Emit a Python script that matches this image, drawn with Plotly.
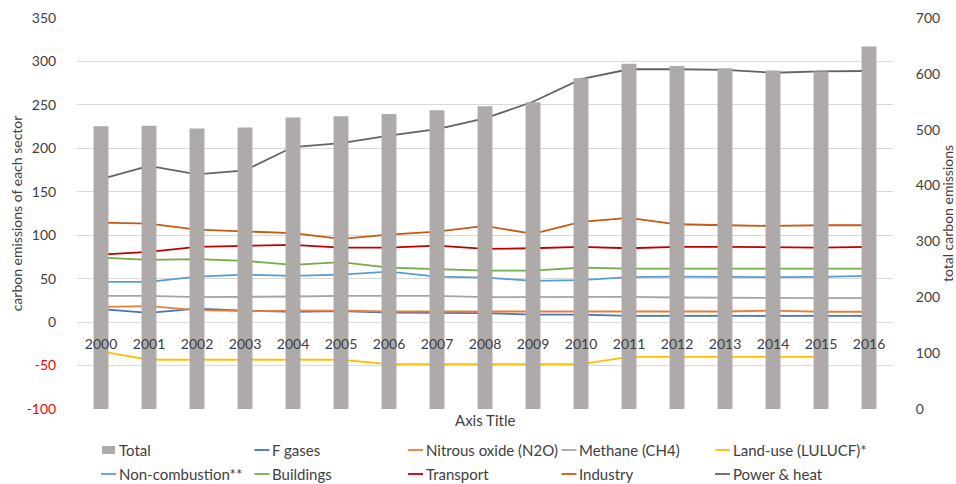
import plotly.graph_objects as go

years = [str(y) for y in range(2000, 2017)]

total = [506, 507, 502, 504, 522, 524, 528, 535, 542, 549, 592, 618, 614, 610, 606, 604, 649]
f_gases = [14.9, 10.7, 15.6, 13.3, 11.9, 12.6, 11.0, 11.0, 10.3, 8.7, 8.7, 7.2, 7.2, 7.2, 8.0, 7.2, 7.2]
nitrous = [17.6, 18.4, 13.8, 12.6, 13.3, 13.3, 12.2, 12.2, 11.5, 11.9, 12.2, 12.2, 12.2, 12.2, 13.3, 11.9, 11.9]
methane = [30.2, 30.2, 28.7, 29.5, 29.5, 30.2, 30.2, 30.2, 28.7, 29.0, 29.0, 29.0, 28.3, 28.3, 27.6, 27.6, 27.6]
land_use = [-33.8, -43.3, -43.3, -43.3, -43.3, -43.3, -48.3, -48.3, -48.3, -48.3, -48.3, -39.9, -39.9, -39.9, -39.9, -39.9, None]
non_combustion = [46.3, 46.3, 52.4, 54.7, 53.2, 54.7, 58.2, 52.4, 51.3, 47.5, 48.3, 51.7, 52.4, 51.7, 51.7, 52.0, 53.2]
buildings = [74.3, 71.6, 72.4, 70.5, 65.9, 69.0, 62.8, 60.9, 59.3, 59.3, 62.8, 61.6, 61.6, 61.6, 60.9, 60.9, 61.6]
transport = [77.7, 80.8, 86.6, 88.0, 88.9, 85.8, 85.8, 88.0, 84.3, 85.0, 86.6, 85.0, 86.6, 86.6, 85.8, 85.8, 86.6]
industry = [114.5, 113.3, 106.4, 104.1, 102.3, 95.7, 100.7, 104.1, 110.7, 101.5, 115.3, 119.9, 112.6, 111.5, 110.7, 111.5, 111.5]
power_heat = [164.7, 179.7, 170.0, 174.7, 201.5, 206.0, 214.5, 222.0, 234.5, 253.6, 279.7, 291.0, 291.0, 290.4, 287.0, 288.5, 289.0]

left_ticks = [350, 300, 250, 200, 150, 100, 50, 0, -50, -100]
right_ticks = [0, 100, 200, 300, 400, 500, 600, 700]

FONT = "Lato"
TEXT = "#404040"
BAR_COLOR = "#AEAAAA"

lines = [
    ("F gases", f_gases, "#4472C4"),
    ("Nitrous oxide (N2O)", nitrous, "#ED7D31"),
    ("Methane (CH4)", methane, "#A5A5A5"),
    ("Land-use (LULUCF)*", land_use, "#FFC000"),
    ("Non-combustion**", non_combustion, "#5B9BD5"),
    ("Buildings", buildings, "#70AD47"),
    ("Transport", transport, "#C00000"),
    ("Industry", industry, "#C55A11"),
    ("Power & heat", power_heat, "#636363"),
]

# figure geometry (pixels) used to place the legend block below the plot
W, H = 956, 484
ML, MR, MT, MB = 77, 63, 18, 75
PW, PH = W - ML - MR, H - MT - MB


def px_x(x):
    return (x - ML) / PW


def px_y(y):
    return (H - MB - y) / PH


fig = go.Figure()
fig.add_trace(go.Bar(x=years, y=total, name="Total", marker_color=BAR_COLOR,
                     marker_line_width=0, yaxis="y2", showlegend=False))
for name, vals, color in lines:
    fig.add_trace(go.Scatter(x=years, y=vals, name=name, mode="lines",
                             line=dict(color=color, width=1.8), yaxis="y",
                             showlegend=False))

# legend: two rows of five entries
entries = [("Total", BAR_COLOR, "box")] + [(n, c, "line") for n, _, c in lines]
shapes, annotations = [], []
for i, (name, color, kind) in enumerate(entries):
    col, row = i % 5, i // 5
    x0 = 101 + 153.5 * col
    yc = 450 + 24 * row
    if kind == "box":
        shapes.append(dict(type="rect", xref="paper", yref="paper",
                           x0=px_x(x0 + 1), x1=px_x(x0 + 14), y0=px_y(yc + 4), y1=px_y(yc - 4),
                           fillcolor=color, line_width=0))
    else:
        shapes.append(dict(type="line", xref="paper", yref="paper",
                           x0=px_x(x0), x1=px_x(x0 + 15), y0=px_y(yc), y1=px_y(yc),
                           line=dict(color=color, width=1.8)))
    annotations.append(dict(text=name, x=px_x(x0 + 15.5), y=px_y(yc), xref="paper", yref="paper",
                            xanchor="left", yanchor="middle", showarrow=False,
                            font=dict(size=15, color=TEXT)))

annotations.append(dict(text="Axis Title", x=px_x(485), y=px_y(420), xref="paper", yref="paper",
                        xanchor="center", yanchor="middle", showarrow=False,
                        font=dict(size=15, color=TEXT)))

left_text = [f'<span style="color:#FF0000">{v}</span>' if v < 0 else str(v) for v in left_ticks]

fig.update_layout(
    width=W, height=H,
    margin=dict(l=ML, r=MR, t=MT, b=MB, autoexpand=False),
    paper_bgcolor="white", plot_bgcolor="white",
    font=dict(family=FONT, size=14, color=TEXT),
    bargap=0.69,
    showlegend=False,
    xaxis=dict(type="category", anchor="free", position=100 / 450,
               showgrid=False, showline=False, ticks="outside", ticklen=9,
               tickcolor="rgba(0,0,0,0)", zeroline=False,
               tickfont=dict(size=14, color=TEXT)),
    yaxis=dict(range=[-100, 350], tickvals=left_ticks, ticktext=left_text,
               showgrid=True, gridcolor="#D9D9D9", gridwidth=1, zeroline=False,
               showline=False, ticks="outside", ticklen=17, tickcolor="rgba(0,0,0,0)",
               tickfont=dict(size=14, color=TEXT),
               title=dict(text="carbon emissions of each sector", font=dict(size=14, color=TEXT),
                          standoff=0)),
    yaxis2=dict(range=[0, 700], tickvals=right_ticks, overlaying="y", side="right",
                showgrid=False, zeroline=False, showline=False,
                ticks="outside", ticklen=19, tickcolor="rgba(0,0,0,0)",
                tickfont=dict(size=14, color=TEXT),
                title=dict(text="total carbon emissions", font=dict(size=14, color=TEXT),
                           standoff=6)),
    shapes=shapes,
    annotations=annotations,
)

fig.write_html("out.html")
